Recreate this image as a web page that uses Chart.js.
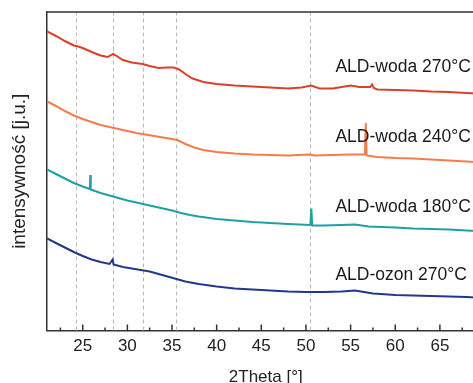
<!DOCTYPE html>
<html>
<head>
<meta charset="utf-8">
<script src="https://cdn.jsdelivr.net/npm/chart.js@4"></script>
<style>
	html, body { margin: 0; padding: 0; background: #fff; overflow: hidden; }
	#wrap { width: 473px; height: 383px; overflow: hidden; }
</style>
</head>
<body>
<div id="wrap"><canvas id="xrdChart" width="500" height="383"></canvas></div>
<script>
	'use strict';

	// Curve names
	const seriesNames = ['ALD-woda 270°C', 'ALD-woda 240°C', 'ALD-woda 180°C', 'ALD-ozon 270°C'];

	// ALD-woda 270°C
	const woda270X = [21, 22, 23, 24, 24.5, 25, 26, 27, 27.8, 28.4, 28.8, 29.5, 30.5, 31.7, 32.5, 33.5, 34.5, 35.2, 35.8, 36.5, 37.3, 38.5, 40, 42, 44, 46, 48, 49.5, 50.6, 51.5, 53, 54, 55, 56, 57.2, 57.4, 57.6, 58, 60, 62, 64, 66, 68, 70];
	const woda270Y = [299, 294.5, 289.5, 285, 284, 282.5, 278.5, 275, 273.5, 276.5, 274.5, 270.5, 268, 266.5, 264.5, 262.5, 263, 263, 261, 256.5, 252, 248.5, 246.5, 245, 244, 243, 242, 243, 245, 242, 242, 243.5, 245, 243.5, 243.5, 246, 242.5, 241, 240.5, 240, 239, 238.5, 237.5, 236.5];

	// ALD-woda 240°C
	const woda240X = [21, 22, 23, 24, 25, 26, 27, 28, 29, 30, 31, 32, 33, 34, 35, 35.6, 36.5, 37.5, 38.5, 40, 42, 44, 46, 48, 50.4, 51, 53, 55, 56.6, 56.7, 56.8, 58, 60, 62, 64, 66, 68, 70];
	const woda240Y = [229, 224.5, 219.5, 215, 211.5, 208.5, 205.5, 203.5, 201.5, 199.5, 197.5, 196, 194.5, 193, 191.5, 190.5, 186.5, 183, 180.5, 178.5, 177, 176, 175.5, 175, 176, 175, 175.5, 176, 176, 207.5, 175, 173.5, 172.5, 172, 171, 170, 169, 168];

	// ALD-woda 180°C
	const woda180X = [21, 22, 23, 24, 25, 25.8, 25.85, 25.9, 27, 28, 29, 30, 31, 32, 33, 34, 35, 36, 37, 38, 40, 42, 44, 46, 48, 50.5, 50.6, 50.7, 52, 54, 55.5, 57, 60, 62, 64, 66, 68, 70];
	const woda180Y = [161, 156.5, 152, 147.5, 144, 141.5, 155.5, 141, 137.5, 135, 132.5, 130, 128, 126, 124, 122, 120, 117.5, 115.5, 114, 111.5, 110, 108.5, 107.5, 106.5, 105.5, 122, 105, 105, 105.5, 106, 104, 103, 102, 101.5, 101, 100, 99];

	// ALD-ozon 270°C
	const ozon270X = [21, 22, 23, 24, 25, 26, 27, 28, 28.35, 28.45, 29.5, 30.5, 31.5, 32.5, 33.5, 34.5, 35.5, 36.5, 38, 40, 42, 44, 46, 48, 50, 52, 54, 55.5, 56.5, 57.5, 60, 62, 64, 66, 68, 70];
	const ozon270Y = [92, 87.5, 83, 78.5, 74.5, 71, 68.5, 66.5, 71, 66, 63.5, 62, 60.5, 59, 56.5, 54, 51.5, 49, 46.5, 44, 42, 41, 40, 39, 38.5, 38.5, 39, 40, 38.5, 37, 35.5, 35, 34.5, 34, 33.5, 32.5];

	// Axis ticks and reference lines
	const xTicks = [25, 30, 35, 40, 45, 50, 55, 60, 65, 70];
	const xMinorTicks = [22.5, 27.5, 32.5, 37.5, 42.5, 47.5, 52.5, 57.5, 62.5, 67.5];
	const peakLines = [24.2, 28.4, 31.7, 35.5, 50.4];

	const colors = ['#d9412b', '#f47c4c', '#1fa0a6', '#22398a'];
	const seriesX = [woda270X, woda240X, woda180X, ozon270X];
	const seriesY = [woda270Y, woda240Y, woda180Y, ozon270Y];

	const FONT = '"Liberation Sans", Arial, sans-serif';

	/**
	 * Dashed peak lines, inward ticks, top frame and curve labels
	 */
	const overlay = {
		id: 'overlay',
		beforeDatasetsDraw: function(chart) {
			const ctx = chart.ctx;
			const area = chart.chartArea;
			const x = chart.scales.x;
			ctx.save();
			ctx.strokeStyle = '#b8b8b8';
			ctx.lineWidth = 1;
			ctx.setLineDash([4, 3]);
			peakLines.forEach(function(v) {
				const px = Math.round(x.getPixelForValue(v)) + 0.5;
				ctx.beginPath();
				ctx.moveTo(px, area.bottom);
				ctx.lineTo(px, area.top);
				ctx.stroke();
			});
			ctx.restore();
		},
		afterDatasetsDraw: function(chart) {
			const ctx = chart.ctx;
			const area = chart.chartArea;
			const x = chart.scales.x;
			const y = chart.scales.y;
			ctx.save();
			ctx.strokeStyle = '#333';
			ctx.lineWidth = 1.5;

			// top frame
			ctx.beginPath();
			ctx.moveTo(area.left, area.top);
			ctx.lineTo(area.right, area.top);
			ctx.stroke();

			// inward ticks
			xTicks.forEach(function(v) {
				const px = x.getPixelForValue(v);
				ctx.beginPath();
				ctx.moveTo(px, area.bottom);
				ctx.lineTo(px, area.bottom - 6);
				ctx.stroke();
			});
			xMinorTicks.forEach(function(v) {
				const px = x.getPixelForValue(v);
				ctx.beginPath();
				ctx.moveTo(px, area.bottom);
				ctx.lineTo(px, area.bottom - 3);
				ctx.stroke();
			});

			// curve labels
			const labelY = [259, 189, 119, 50.5];
			ctx.fillStyle = '#1a1a1a';
			ctx.font = '17.5px ' + FONT;
			ctx.textAlign = 'left';
			ctx.textBaseline = 'alphabetic';
			seriesNames.forEach(function(name, i) {
				ctx.fillText(name, x.getPixelForValue(53.3), y.getPixelForValue(labelY[i]));
			});
			ctx.restore();
		}
	};

	const datasets = seriesNames.map(function(name, i) {
		return {
			label: name,
			data: seriesX[i].map(function(v, j) { return { x: v, y: seriesY[i][j] }; }),
			borderColor: colors[i],
			borderWidth: 2,
			pointRadius: 0,
			tension: 0,
			fill: false
		};
	});

	new Chart(document.getElementById('xrdChart'), {
		type: 'line',
		data: { datasets: datasets },
		plugins: [overlay],
		options: {
			responsive: false,
			animation: false,
			layout: { padding: { top: 12, right: 12, left: 0, bottom: 0 } },
			plugins: {
				legend: { display: false },
				tooltip: { enabled: false }
			},
			scales: {
				x: {
					type: 'linear',
					min: 21,
					max: 70,
					afterBuildTicks: function(scale) {
						scale.ticks = xTicks.map(function(v) { return { value: v }; });
					},
					afterFit: function(scale) { scale.height = 52.5; },
					grid: { display: true, drawOnChartArea: false, drawTicks: false },
					border: { display: true, color: '#333', width: 1.5 },
					ticks: {
						padding: 6,
						color: '#222',
						maxRotation: 0,
						font: { family: FONT, size: 17 }
					},
					title: {
						display: true,
						text: '2Theta [°]',
						color: '#222',
						padding: { top: 0, bottom: -3 },
						font: { family: FONT, size: 17, lineHeight: 1 }
					}
				},
				y: {
					min: 0,
					max: 318.5,
					afterFit: function(scale) { scale.width = 47; },
					grid: { display: true, drawOnChartArea: false, drawTicks: false },
					border: { display: true, color: '#333', width: 1.5 },
					ticks: { display: false },
					title: {
						display: true,
						text: 'intensywność [j.u.]',
						color: '#222',
						padding: { top: 10.5, bottom: 0 },
						font: { family: FONT, size: 19, lineHeight: 1 }
					}
				}
			}
		}
	});
</script>
</body>
</html>
